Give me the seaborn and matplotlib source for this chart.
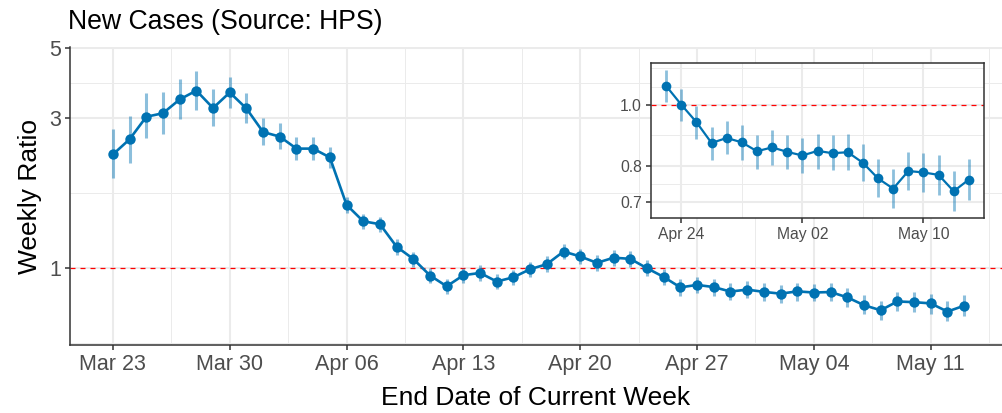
import numpy as np
import pandas as pd
import matplotlib
matplotlib.use('Agg')
import matplotlib.pyplot as plt
import matplotlib.dates as mdates
import seaborn as sns

# Weekly ratio of new cases, end date of current week Mar 23 - May 13
dates = pd.date_range('2020-03-23', '2020-05-13', freq='D')

ratio = [2.30, 2.57, 3.03, 3.11, 3.44, 3.67, 3.23, 3.62, 3.22, 2.71,
         2.62, 2.40, 2.40, 2.25, 1.59, 1.41, 1.38, 1.17, 1.07, 0.948,
         0.876, 0.950, 0.966, 0.907, 0.936, 0.993, 1.03, 1.13, 1.09, 1.04,
         1.08, 1.071, 1.000, 0.938, 0.869, 0.885, 0.871, 0.843, 0.855, 0.841,
         0.830, 0.844, 0.837, 0.840, 0.808, 0.763, 0.735, 0.784, 0.780, 0.773,
         0.728, 0.760]

lower = [1.93, 2.16, 2.59, 2.67, 2.98, 3.18, 2.84, 3.22, 2.90, 2.46,
         2.39, 2.21, 2.21, 2.08, 1.50, 1.33, 1.30, 1.10, 1.01, 0.895,
         0.828, 0.898, 0.913, 0.857, 0.885, 0.940, 0.975, 1.07, 1.03, 0.983,
         1.02, 1.010, 0.942, 0.883, 0.817, 0.834, 0.817, 0.791, 0.803, 0.789,
         0.777, 0.789, 0.786, 0.786, 0.755, 0.713, 0.685, 0.731, 0.726, 0.717,
         0.677, 0.704]

upper = [2.78, 3.04, 3.60, 3.63, 4.00, 4.24, 3.70, 4.06, 3.60, 3.00,
         2.89, 2.62, 2.62, 2.43, 1.69, 1.49, 1.46, 1.24, 1.13, 1.00,
         0.926, 1.005, 1.022, 0.960, 0.990, 1.05, 1.09, 1.195, 1.15, 1.10,
         1.14, 1.137, 1.060, 0.995, 0.921, 0.941, 0.927, 0.896, 0.910, 0.896,
         0.885, 0.899, 0.894, 0.897, 0.865, 0.819, 0.789, 0.841, 0.838, 0.831,
         0.784, 0.820]

inset_start = '2020-04-23'

main_ticks = pd.date_range('2020-03-23', '2020-05-11', freq='7D')
inset_ticks = pd.date_range('2020-04-24', '2020-05-10', freq='8D')
main_yticks = [1, 3, 5]
inset_yticks = [0.7, 0.8, 1.0]

df = pd.DataFrame({'date': dates, 'ratio': ratio, 'lower': lower, 'upper': upper})
df_in = df[df['date'] >= inset_start]

blue = '#0072B2'
grid = '#EBEBEB'
dark = '#333333'
tickc = '#4D4D4D'

sns.set_theme(style='white')
plt.rcParams['font.family'] = ['Liberation Sans', 'DejaVu Sans']

fig = plt.figure(figsize=(10.02, 4.13), dpi=100)
W, H = 1002, 413
ax = fig.add_axes([70 / W, (H - 345) / H, (1002 - 70) / W, (345 - 47) / H])


def style_axes(a, xmaj, xmin, ymaj, ymin, labsize, box):
    for x in xmin:
        a.axvline(x, color=grid, lw=0.7, zorder=0)
    for x in xmaj:
        a.axvline(x, color=grid, lw=1.5, zorder=0)
    for y in ymin:
        a.axhline(y, color=grid, lw=0.7, zorder=0)
    for y in ymaj:
        a.axhline(y, color=grid, lw=1.5, zorder=0)
    for s in ['top', 'right']:
        a.spines[s].set_visible(box)
    for s in a.spines.values():
        s.set_color(dark)
        s.set_linewidth(1.1)
    a.tick_params(axis='both', which='major', length=3.5, width=1.1, color=dark,
                  labelcolor=tickc, labelsize=labsize, pad=3,
                  bottom=True, left=True, top=False, right=False)
    a.tick_params(axis='both', which='minor', length=0)
    a.set_facecolor('white')


def draw_series(a, d, lw, ms, elw):
    a.vlines(d['date'], d['lower'], d['upper'], color=blue, alpha=0.45, lw=elw, zorder=2)
    sns.lineplot(data=d, x='date', y='ratio', ax=a, color=blue, lw=lw,
                 marker='o', markersize=ms, markeredgewidth=0, zorder=3)
    a.axhline(1, color='red', lw=0.9, dashes=(4, 4), zorder=1)


# main panel
draw_series(ax, df, 1.9, 7.5, 2.2)
ax.set_yscale('log')
ax.set_ylim(0.57, 5.05)
ax.set_xlim(dates[0] - pd.Timedelta(days=2.57), dates[0] + pd.Timedelta(days=53.27))
ax.set_yticks(main_yticks)
ax.set_yticklabels([str(v) for v in main_yticks])
ax.yaxis.set_minor_locator(matplotlib.ticker.NullLocator())
ax.set_xticks(main_ticks)
ax.xaxis.set_major_formatter(mdates.DateFormatter('%b %d'))
main_minor_x = [t + pd.Timedelta(days=3.5) for t in
                pd.date_range('2020-03-16', '2020-05-11', freq='7D')]
style_axes(ax, main_ticks, main_minor_x, main_yticks,
           [np.sqrt(3), np.sqrt(15), 1 / np.sqrt(3)], 15.5, False)
ax.set_xlabel('End Date of Current Week', fontsize=19, color='black', labelpad=8)
ax.set_ylabel('Weekly Ratio', fontsize=19, color='black', labelpad=5)
fig.text(68 / W, 1 - 29 / H, 'New Cases (Source: HPS)', fontsize=19.2,
         ha='left', va='baseline', color='black')

# inset panel
axi = fig.add_axes([651 / W, (H - 218) / H, (984 - 651) / W, (218 - 63) / H])
draw_series(axi, df_in, 1.6, 7.0, 2.0)
axi.set_yscale('log')
axi.set_ylim(0.660, 1.165)
axi.set_xlim(pd.Timestamp('2020-04-22'), pd.Timestamp('2020-05-14'))
axi.set_yticks(inset_yticks)
axi.set_yticklabels(['0.7', '0.8', '1.0'])
axi.yaxis.set_minor_locator(matplotlib.ticker.NullLocator())
axi.set_xticks(inset_ticks)
axi.xaxis.set_major_formatter(mdates.DateFormatter('%b %d'))
style_axes(axi, inset_ticks, [pd.Timestamp('2020-04-28'), pd.Timestamp('2020-05-06')],
           inset_yticks, [0.748, 0.894, 1.067, 1.142], 11.3, True)
axi.set_xlabel('')
axi.set_ylabel('')

fig.savefig('out.png', dpi=100)
